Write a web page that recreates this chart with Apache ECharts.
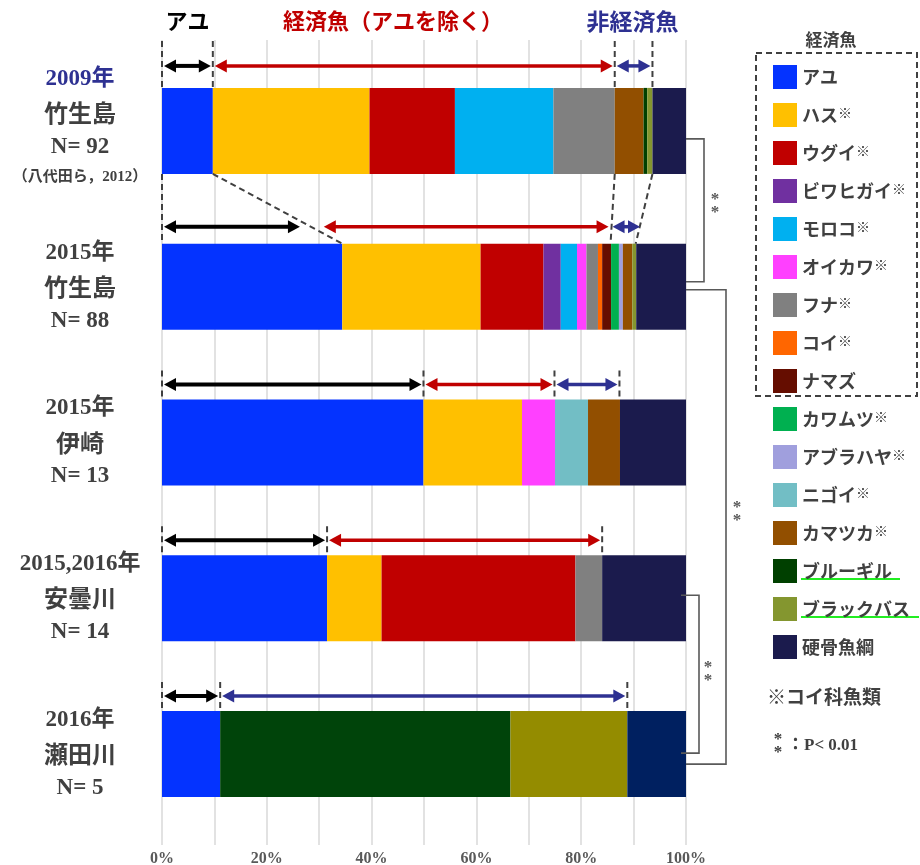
<!DOCTYPE html>
<html>
<head>
<meta charset="utf-8">
<script src="https://cdn.jsdelivr.net/npm/echarts@6/dist/echarts.min.js"></script>
<style>
  html, body { margin: 0; background: #fff; }
  #main { width: 920px; height: 865px; }
</style>
</head>
<body>
<div id="main"></div>
<script>
// ---- data ----
const years = ["2009年", "2015年", "2015年", "2015,2016年", "2016年"];
const sites = ["竹生島", "竹生島", "伊崎", "安曇川", "瀬田川"];
const sampleN = [92, 88, 13, 14, 5];
const citation = "（八代田ら，2012）";

const species = [
  "アユ", "ハス※", "ウグイ※", "ビワヒガイ※", "モロコ※", "オイカワ※", "フナ※", "コイ※",
  "ナマズ", "カワムツ※", "アブラハヤ※", "ニゴイ※", "カマツカ※", "ブルーギル", "ブラックバス", "硬骨魚綱"
];
// percentage per site (same order as sites)
const ayu        = [9.7, 34.4, 49.9, 31.5, 11.1];
const hasu       = [29.9, 26.4, 18.8, 10.4, null];
const ugui       = [16.3, 12.0, null, 37.0, null];
const biwahigai  = [null, 3.3, null, null, null];
const moroko     = [18.8, 3.1, null, null, null];
const oikawa     = [null, 1.8, 6.3, null, null];
const funa       = [11.7, 2.2, null, 5.1, null];
const koi        = [null, 0.8, null, null, null];
const namazu     = [null, 1.7, null, null, null];
const kawamutsu  = [null, 1.5, null, null, null];
const aburahaya  = [null, 0.75, null, null, null];
const nigoi      = [null, null, 6.3, null, null];
const kamatsuka  = [5.5, 1.8, 6.1, null, null];
const bluegill   = [0.7, null, null, null, 55.4];
const blackbass  = [1.0, 0.75, null, null, 22.3];
const koukotsu   = [6.4, 9.5, 12.6, 16.0, 11.2];
const seriesValues = [ayu, hasu, ugui, biwahigai, moroko, oikawa, funa, koi,
  namazu, kawamutsu, aburahaya, nigoi, kamatsuka, bluegill, blackbass, koukotsu];

const xTicks = [0, 20, 40, 60, 80, 100];

// annotation spans (%), per site
const ayuSpan    = [[0, 9.7], [0, 26.7], [0, 49.9], [0, 31.5], [0, 11.1]];
const ecoSpan    = [[9.7, 86.4], [30.5, 85.6], [49.9, 74.9], [31.5, 84.0], null];
const nonEcoSpan = [[86.4, 93.6], [85.6, 91.6], [74.9, 87.3], null, [11.1, 88.8]];
const guideTicks = [[0, 9.7, 86.4, 93.6], [], [0, 49.9, 74.9, 87.3], [0, 31.5, 84.0], [0, 11.1, 88.8]];
const linkTicks  = [[0, 0], [9.7, 34.4], [86.4, 85.6], [93.6, 90.4]];
const sigPairs   = [[0, 1], [1, 4], [3, 4]];

// ---- styles ----
const colors = ["#0433FF", "#FFC000", "#C00000", "#7030A0", "#00B0F0", "#FF40FF", "#808080", "#FF6600",
  "#650D00", "#00B050", "#A09FDD", "#72BEC5", "#924F00", "#004000", "#84962F", "#1B1B4D"];
const site5Colors = { "ブルーギル": "#00440A", "ブラックバス": "#948C00", "硬骨魚綱": "#002060" };

const SERIF = "'Liberation Serif', 'Noto Sans CJK JP', serif";
const CJK = "'Noto Sans CJK JP', sans-serif";
const TXT = "#404040";

const chart = echarts.init(document.getElementById("main"));

const series = species.map((name, k) => ({
  name: name,
  type: "bar",
  stack: "all",
  barWidth: 86,
  xAxisIndex: 0,
  yAxisIndex: 0,
  itemStyle: { color: colors[k] },
  data: seriesValues[k].map((v, i) =>
    (i === 4 && site5Colors[name] && v != null) ? { value: v, itemStyle: { color: site5Colors[name] } } : v)
}));

const option = {
  animation: false,
  backgroundColor: "#fff",
  grid: [
    { left: 162, right: 234, top: 53, bottom: 33, containLabel: false, outerBoundsMode: "none" },
    { left: 162, right: 234, top: 40, bottom: 20, containLabel: false, outerBoundsMode: "none" }
  ],
  xAxis: [
    { gridIndex: 0, type: "value", min: 0, max: 100, show: false },
    {
      gridIndex: 1, type: "value", min: 0, max: 100, interval: 10,
      axisLine: { show: false }, axisTick: { show: false },
      splitLine: { show: true, lineStyle: { color: "#D9D9D9", width: 1.5 } },
      axisLabel: {
        margin: 6, color: "#595959", fontFamily: SERIF, fontWeight: "bold", fontSize: 16,
        formatter: v => xTicks.indexOf(v) >= 0 ? v + "%" : ""
      }
    }
  ],
  yAxis: [
    {
      gridIndex: 0, type: "category", inverse: true,
      data: sites.map((s, i) => years[i] + s),
      axisLine: { show: false }, axisTick: { show: false }, splitLine: { show: false },
      axisLabel: {
        align: "center", margin: 82,
        formatter: (v, i) => {
          let s = "{" + (i === 0 ? "yb" : "y") + "|" + years[i] + "}\n{s|" + sites[i] + "}\n{n|N= " + sampleN[i] + "}";
          if (i === 0) s += "\n{c|" + citation + "}\n{p|}";
          return s;
        },
        rich: {
          y: { fontFamily: SERIF, fontWeight: "bold", fontSize: 23, color: TXT, lineHeight: 34 },
          yb: { fontFamily: SERIF, fontWeight: "bold", fontSize: 23, color: "#2E3192", lineHeight: 34 },
          s: { fontFamily: CJK, fontWeight: "bold", fontSize: 24, color: TXT, lineHeight: 34 },
          n: { fontFamily: SERIF, fontWeight: "bold", fontSize: 23, color: TXT, lineHeight: 34 },
          c: { fontFamily: SERIF, fontWeight: "bold", fontSize: 15, color: TXT, lineHeight: 26 },
          p: { fontSize: 6, lineHeight: 10 }
        }
      }
    },
    { gridIndex: 1, type: "value", show: false }
  ],
  legend: {
    orient: "vertical", left: 768, top: 60,
    itemWidth: 24, itemHeight: 24, itemGap: 14, icon: "rect",
    selectedMode: false,
    data: species,
    formatter: name => name.endsWith("※")
      ? "{n|" + name.slice(0, -1) + "}{m|※}"
      : "{n|" + name + "}",
    textStyle: {
      rich: {
        n: { fontFamily: CJK, fontWeight: "bold", fontSize: 18, color: TXT },
        m: { fontFamily: CJK, fontWeight: "bold", fontSize: 14, color: TXT, verticalAlign: "top" }
      }
    }
  },
  series: series
};
chart.setOption(option);

// ---- annotations drawn through the chart scales ----
const px = v => chart.convertToPixel({ xAxisIndex: 0 }, v);
const cy = i => chart.convertToPixel({ yAxisIndex: 0 }, i);
const HALF = 43;
const arrowOff = [65, 60, 58, 58, 58];
const g = [];

function arrow(a, b, y, color, w) {
  const L = 12, H = 6.5;
  g.push({ type: "line", z: 100, shape: { x1: a + L - 2, y1: y, x2: b - L + 2, y2: y }, style: { stroke: color, lineWidth: w } });
  g.push({ type: "polygon", z: 100, shape: { points: [[a, y], [a + L, y - H], [a + L, y + H]] }, style: { fill: color } });
  g.push({ type: "polygon", z: 100, shape: { points: [[b, y], [b - L, y - H], [b - L, y + H]] }, style: { fill: color } });
}
function dash(x1, y1, x2, y2) {
  g.push({ type: "line", z: 99, shape: { x1: x1, y1: y1, x2: x2, y2: y2 },
    style: { stroke: "#404040", lineWidth: 2, lineDash: [6, 4] } });
}

sites.forEach((s, i) => {
  const c = cy(i);
  const top = i === 0 ? c - 90 : c - 72;
  guideTicks[i].forEach(v => dash(px(v), top, px(v), c - HALF));
  const y = c - arrowOff[i];
  if (ayuSpan[i]) arrow(px(ayuSpan[i][0]) + 2, px(ayuSpan[i][1]) - 2, y, "#000000", 4);
  if (ecoSpan[i]) arrow(px(ecoSpan[i][0]) + 2, px(ecoSpan[i][1]) - 2, y, "#C00000", 3.5);
  if (nonEcoSpan[i]) arrow(px(nonEcoSpan[i][0]) + 2, px(nonEcoSpan[i][1]) - 2, y, "#2E3192", 3.5);
});
linkTicks.forEach(([a, b]) => dash(px(a), cy(0) + HALF, px(b), cy(1) - HALF));

// significance brackets
const bracketGeom = [
  { w: 18, t: 8, b: -5, inset: 0, star: 11, sy: -4 },
  { w: 40, t: 3, b: 10, inset: 0, star: 11, sy: -13 },
  { w: 13, t: -3, b: -1, inset: 5, star: 9, sy: 0 }
];
sigPairs.forEach(([a, b], k) => {
  const gm = bracketGeom[k];
  const x0 = px(100) - gm.inset, x1 = px(100) + gm.w;
  const y0 = cy(a) + gm.t, y1 = cy(b) + gm.b;
  g.push({ type: "polyline", z: 100, shape: { points: [[x0, y0], [x1, y0], [x1, y1], [x0, y1]] },
    style: { stroke: "#595959", lineWidth: 1.6, fill: null } });
  g.push({ type: "text", z: 100, x: x1 + gm.star, y: (y0 + y1) / 2 + gm.sy,
    style: { text: "*\n*", fill: "#595959", font: "bold 17px " + SERIF, align: "center", verticalAlign: "middle", lineHeight: 13 } });
});

// header labels
const headY = 21;
g.push({ type: "text", x: px(4.85), y: headY, style: { text: "アユ", fill: "#000", font: "bold 22px " + CJK, align: "center", verticalAlign: "middle" } });
g.push({ type: "text", x: px(44.1), y: headY, style: { text: "経済魚（アユを除く）", fill: "#C00000", font: "bold 22px " + CJK, align: "center", verticalAlign: "middle" } });
g.push({ type: "text", x: px(89.8), y: headY, style: { text: "非経済魚", fill: "#2E3192", font: "bold 23px " + CJK, align: "center", verticalAlign: "middle" } });

// legend frame and notes
g.push({ type: "text", x: 831, y: 40, style: { text: "経済魚", fill: TXT, font: "bold 17px " + CJK, align: "center", verticalAlign: "middle" } });
g.push({ type: "rect", shape: { x: 756, y: 53, width: 161, height: 343 },
  style: { fill: null, stroke: "#404040", lineWidth: 2, lineDash: [6, 4] } });
g.push({ type: "line", shape: { x1: 801, y1: 579, x2: 900, y2: 579 }, style: { stroke: "#22EE22", lineWidth: 2 } });
g.push({ type: "line", shape: { x1: 801, y1: 617, x2: 919, y2: 617 }, style: { stroke: "#22EE22", lineWidth: 2 } });
g.push({ type: "text", x: 767, y: 697, style: { text: "※コイ科魚類", fill: TXT, font: "bold 19px " + CJK, verticalAlign: "middle" } });
g.push({ type: "text", x: 778, y: 746, style: { text: "*\n*", fill: TXT, font: "bold 17px " + SERIF, align: "center", verticalAlign: "middle", lineHeight: 13 } });
g.push({ type: "text", x: 787, y: 746, style: { text: "：P< 0.01", fill: TXT, font: "bold 17px " + SERIF, verticalAlign: "middle" } });

chart.setOption({ graphic: g });
</script>
</body>
</html>
